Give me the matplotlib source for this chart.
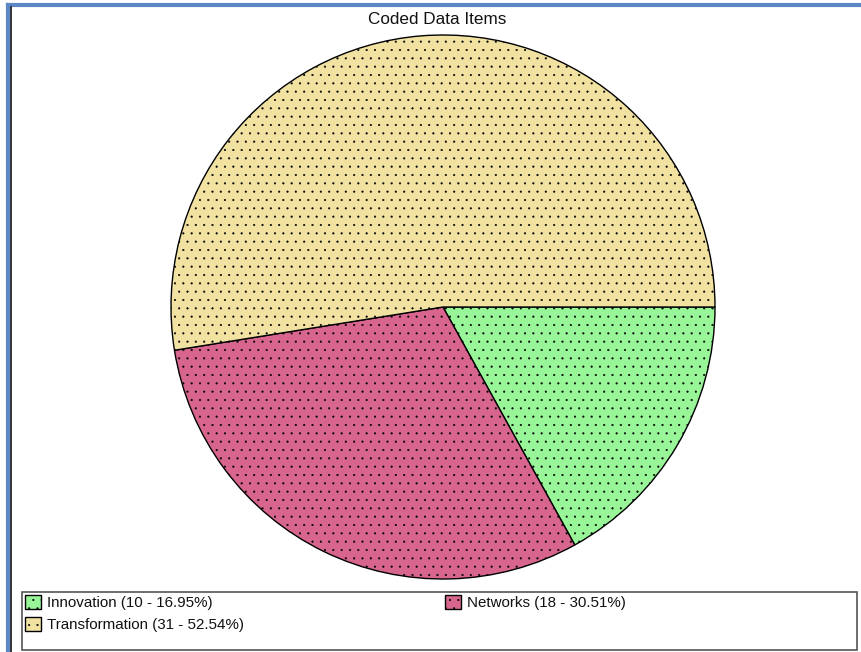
import matplotlib.pyplot as plt
from matplotlib.lines import Line2D
from matplotlib.patches import Rectangle

# data
labels = ["Innovation", "Networks", "Transformation"]
counts = [10, 18, 31]
percents = [16.95, 30.51, 52.54]
colors = ["#98F598", "#D8658D", "#F1E2A2"]

W, H = 861, 652
fig = plt.figure(figsize=(W / 100, H / 100), dpi=100)
plt.rcParams['font.family'] = ['Liberation Sans', 'DejaVu Sans']
plt.rcParams['hatch.linewidth'] = 0.3

# window frame (blue + dark inner line)
fig.add_artist(Line2D([8 / W, 1], [1 - 5 / H, 1 - 5 / H], color="#5b87c7", lw=3))
fig.add_artist(Line2D([8 / W, 8 / W], [0, 1 - 5 / H], color="#5b87c7", lw=3))
fig.add_artist(Line2D([10.5 / W, 10.5 / W], [0, 1 - 7 / H], color="#111111", lw=1.2))

# pie axes, centre (443, 307) px, radius 272 px
cx, cy, r = 443, 307, 272
ax = fig.add_axes([(cx - r) / W, (H - cy - r) / H, 2 * r / W, 2 * r / H])
wedges, _ = ax.pie(counts, colors=colors, startangle=0, counterclock=False,
                   wedgeprops=dict(edgecolor="black", linewidth=1))
for w in wedges:
    w.set_hatch('..')
ax.set_xlim(-1, 1)
ax.set_ylim(-1, 1)
ax.set_aspect('auto')
ax.axis('off')

fig.text(437 / W, 1 - 19 / H, "Coded Data Items", ha='center', va='center',
         fontsize=12.3, color="#111111")

# legend box
fig.add_artist(Rectangle((22 / W, 1 - 650 / H), (857 - 22) / W, 58 / H,
                         transform=fig.transFigure, facecolor='white',
                         edgecolor="#555555", lw=1.2))

leg_labels = [f"{l} ({c} - {p:.2f}%)" for l, c, p in zip(labels, counts, percents)]
common = dict(loc='upper left', fontsize=10.9, frameon=False, borderaxespad=0,
              handlelength=1.05, handleheight=1.05, handletextpad=0.4,
              borderpad=0.0, labelspacing=0.45)
leg1 = fig.legend([wedges[0], wedges[2]], [leg_labels[0], leg_labels[2]],
                  bbox_to_anchor=(25 / W, 1 - 595 / H), **common)
leg2 = fig.legend([wedges[1]], [leg_labels[1]],
                  bbox_to_anchor=(445 / W, 1 - 595 / H), **common)
for leg in (leg1, leg2):
    for t in leg.get_texts():
        t.set_color("#111111")

fig.savefig("out.png", dpi=100)
